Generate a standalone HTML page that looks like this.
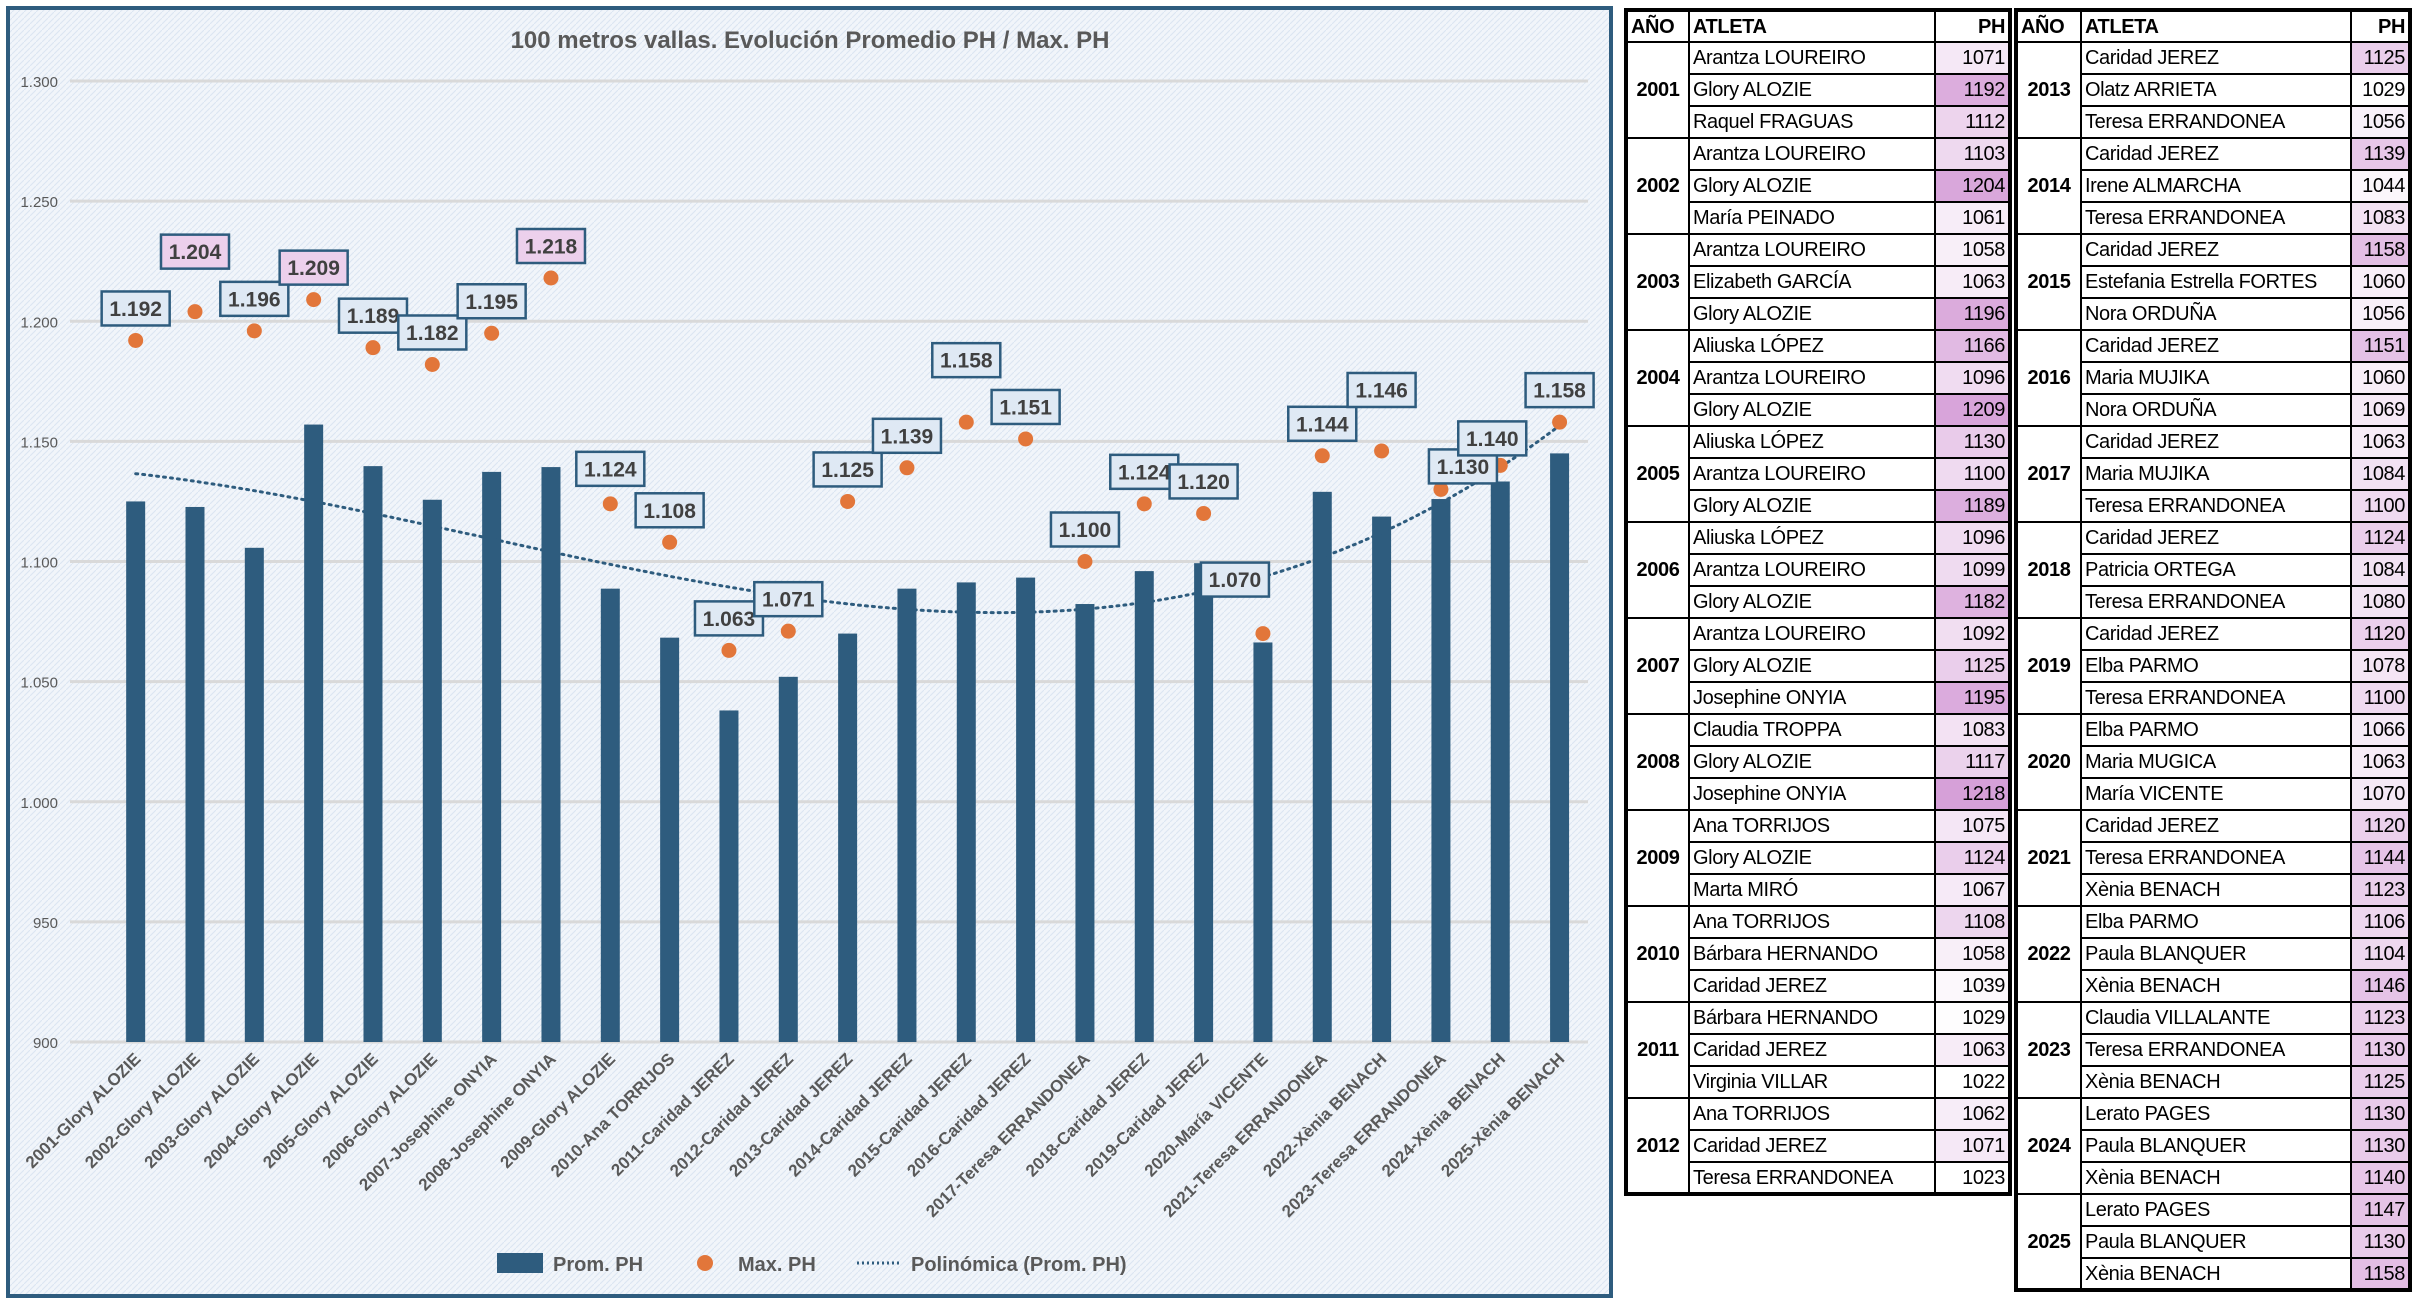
<!DOCTYPE html>
<html><head><meta charset="utf-8">
<style>
html,body{margin:0;padding:0;background:#fff;width:2414px;height:1308px;overflow:hidden;font-family:"Liberation Sans",sans-serif}
#chart{position:absolute;left:0;top:0}
.tbl{position:absolute;top:8px;border-collapse:collapse;table-layout:fixed;border:4px solid #000;background:#fff}
.tbl tr{height:32px}
.tbl td,.tbl th{border:2px solid #000;padding:0 3px;font-size:20px;letter-spacing:-0.4px;white-space:nowrap;overflow:hidden;color:#000;line-height:28px}
.tbl th{font-weight:bold;text-align:left}
.tbl th.ph{text-align:right}
.tbl td.yr{font-weight:bold;text-align:center}
.tbl td.v{text-align:right}
</style></head><body>
<svg id="chart" width="1620" height="1308">
<defs><pattern id="pat" width="6" height="6" patternUnits="userSpaceOnUse"><rect width="6" height="6" fill="#f1f5fa"/><path d="M0 6L6 0" stroke="#dbe5f1" stroke-width="1"/></pattern></defs>
<rect x="8" y="8" width="1603" height="1288" fill="url(#pat)" stroke="#2e5c7e" stroke-width="4"/>
<text x="810" y="48" text-anchor="middle" font-size="24" font-weight="bold" fill="#595959">100 metros vallas. Evolución Promedio PH / Max. PH</text>
<g id="grid"></g><g id="bars"></g><g id="trend"></g><g id="dots"></g><g id="labels"></g><g id="xlabels"></g>
<g>
<rect x="497" y="1253" width="46" height="20" fill="#2e5c7e"/>
<text x="553" y="1271" font-size="20" font-weight="bold" fill="#595959">Prom. PH</text>
<circle cx="705" cy="1263" r="8" fill="#e2763a"/>
<text x="738" y="1271" font-size="20" font-weight="bold" fill="#595959">Max. PH</text>
<line x1="857" y1="1263" x2="900" y2="1263" stroke="#2e5c7e" stroke-width="3" stroke-dasharray="2 3"/>
<text x="911" y="1271" font-size="20" font-weight="bold" fill="#595959">Polinómica (Prom. PH)</text>
</g>
</svg>
<div id="tables"></div>
<script>
const categories=["2001-Glory ALOZIE","2002-Glory ALOZIE","2003-Glory ALOZIE","2004-Glory ALOZIE","2005-Glory ALOZIE","2006-Glory ALOZIE","2007-Josephine ONYIA","2008-Josephine ONYIA","2009-Glory ALOZIE","2010-Ana TORRIJOS","2011-Caridad JEREZ","2012-Caridad JEREZ","2013-Caridad JEREZ","2014-Caridad JEREZ","2015-Caridad JEREZ","2016-Caridad JEREZ","2017-Teresa ERRANDONEA","2018-Caridad JEREZ","2019-Caridad JEREZ","2020-María VICENTE","2021-Teresa ERRANDONEA","2022-Xènia BENACH","2023-Teresa ERRANDONEA","2024-Xènia BENACH","2025-Xènia BENACH"];
const promPH=[1125,1122.7,1105.7,1157,1139.7,1125.7,1137.3,1139.3,1088.7,1068.3,1038,1052,1070,1088.7,1091.3,1093.3,1082.3,1096,1099.3,1066.3,1129,1118.7,1126,1133.3,1145];
const maxPH=[1192,1204,1196,1209,1189,1182,1195,1218,1124,1108,1063,1071,1125,1139,1158,1151,1100,1124,1120,1070,1144,1146,1130,1140,1158];
const yTicks=[900,950,1000,1050,1100,1150,1200,1250,1300];
const yTickLabels=["900","950","1.000","1.050","1.100","1.150","1.200","1.250","1.300"];
const labelDx=[0,0,0,0,0,0,0,0,0,0,0,0,0,0,0,0,0,0,0,-28,0,0,22,-8,0];
const labelDy=[0,-28,0,0,0,0,0,0,-3,0,0,0,0,0,-30,0,0,0,0,-22,0,-29,9,5,0];
const pinkLabels=[1,3,7];
const trendOrder=3;

const NS="http://www.w3.org/2000/svg";
const y0=900,y1=1300,py0=1042,py1=81;
const yS=v=>py0-(v-y0)*(py0-py1)/(y1-y0);
const x0=106,step=59.33;
const xS=i=>x0+step*(i+0.5);
function mk(tag,attrs,parent){const e=document.createElementNS(NS,tag);for(const k in attrs)e.setAttribute(k,attrs[k]);parent.appendChild(e);return e;}
const grid=document.getElementById('grid');
yTicks.forEach((t,i)=>{
 const l=mk('line',{x1:70,x2:1588,y1:yS(t),y2:yS(t),stroke:'#d9d9d9','stroke-width':3},grid);
 
 
 const tx=mk('text',{x:58,y:yS(t)+6,'text-anchor':'end','font-size':15,fill:'#595959'},grid);
 tx.textContent=yTickLabels[i];
 
 
});
const bars=document.getElementById('bars');
promPH.forEach((v,i)=>{
 const r=mk('rect',{x:xS(i)-9.5,y:yS(v),width:19,height:py0-yS(v),fill:'#2e5c7e'},bars);
 
 
});
(function(){
 const n=promPH.length,m=trendOrder+1;const c=i=>(i+1-13)/12;
 const A=[];for(let r=0;r<m;r++){A.push(new Array(m+1).fill(0));}
 promPH.forEach((v,i)=>{const x=c(i);for(let r=0;r<m;r++){for(let k=0;k<m;k++)A[r][k]+=Math.pow(x,r+k);A[r][m]+=v*Math.pow(x,r);}});
 for(let cc=0;cc<m;cc++){for(let r=cc+1;r<m;r++){const f=A[r][cc]/A[cc][cc];for(let k=cc;k<=m;k++)A[r][k]-=f*A[cc][k];}}
 const co=new Array(m).fill(0);for(let r=m-1;r>=0;r--){let s=A[r][m];for(let k=r+1;k<m;k++)s-=A[r][k]*co[k];co[r]=s/A[r][r];}
 let d='';for(let t=0;t<=240;t++){const i=t*(n-1)/240;const x=c(i);let v=0;for(let k=0;k<m;k++)v+=co[k]*Math.pow(x,k);d+=(t?'L':'M')+xS(i).toFixed(1)+' '+yS(v).toFixed(1);}
 const p=mk('path',{d:d,fill:'none',stroke:'#2e5c7e','stroke-width':3,'stroke-dasharray':'2 5','stroke-linecap':'round'},document.getElementById('trend'));
 
 
})();
const dots=document.getElementById('dots'),labels=document.getElementById('labels');
maxPH.forEach((v,i)=>{
 const c=mk('circle',{cx:xS(i),cy:yS(v),r:7.5,fill:'#e2763a'},dots);
 
 
});
const order=maxPH.map((v,i)=>i);order.splice(order.indexOf(22),1);order.splice(22,0,22);
order.forEach(i=>{
 const v=maxPH[i];const cx=xS(i)+labelDx[i],cy=yS(v)-32+labelDy[i];
 const g=mk('g',{},labels);
 
 
 mk('rect',{x:cx-34,y:cy-17,width:68,height:34,fill:pinkLabels.includes(i)?'#ecd0ec':'#dfe9f4',stroke:'#2e5c7e','stroke-width':2.5},g);
 const t=mk('text',{x:cx,y:cy+7.5,'text-anchor':'middle','font-size':21,'font-weight':'bold',fill:'#404040'},g);
 t.textContent=(v/1000).toFixed(3);
});
const xl=document.getElementById('xlabels');
categories.forEach((c,i)=>{
 const x=xS(i)+6,y=1060;
 const t=mk('text',{x:x,y:y,'text-anchor':'end','font-size':17,'font-weight':'bold',fill:'#595959',transform:`rotate(-45 ${x} ${y})`},xl);
 t.textContent=c;
 
 
});

const tYears=[2001,2002,2003,2004,2005,2006,2007,2008,2009,2010,2011,2012,2013,2014,2015,2016,2017,2018,2019,2020,2021,2022,2023,2024,2025];
const tNames=[["Arantza LOUREIRO","Glory ALOZIE","Raquel FRAGUAS"],["Arantza LOUREIRO","Glory ALOZIE","María PEINADO"],["Arantza LOUREIRO","Elizabeth GARCÍA","Glory ALOZIE"],["Aliuska LÓPEZ","Arantza LOUREIRO","Glory ALOZIE"],["Aliuska LÓPEZ","Arantza LOUREIRO","Glory ALOZIE"],["Aliuska LÓPEZ","Arantza LOUREIRO","Glory ALOZIE"],["Arantza LOUREIRO","Glory ALOZIE","Josephine ONYIA"],["Claudia TROPPA","Glory ALOZIE","Josephine ONYIA"],["Ana TORRIJOS","Glory ALOZIE","Marta MIRÓ"],["Ana TORRIJOS","Bárbara HERNANDO","Caridad JEREZ"],["Bárbara HERNANDO","Caridad JEREZ","Virginia VILLAR"],["Ana TORRIJOS","Caridad JEREZ","Teresa ERRANDONEA"],["Caridad JEREZ","Olatz ARRIETA","Teresa ERRANDONEA"],["Caridad JEREZ","Irene ALMARCHA","Teresa ERRANDONEA"],["Caridad JEREZ","Estefania Estrella FORTES","Nora ORDUÑA"],["Caridad JEREZ","Maria MUJIKA","Nora ORDUÑA"],["Caridad JEREZ","Maria MUJIKA","Teresa ERRANDONEA"],["Caridad JEREZ","Patricia ORTEGA","Teresa ERRANDONEA"],["Caridad JEREZ","Elba PARMO","Teresa ERRANDONEA"],["Elba PARMO","Maria MUGICA","María VICENTE"],["Caridad JEREZ","Teresa ERRANDONEA","Xènia BENACH"],["Elba PARMO","Paula BLANQUER","Xènia BENACH"],["Claudia VILLALANTE","Teresa ERRANDONEA","Xènia BENACH"],["Lerato PAGES","Paula BLANQUER","Xènia BENACH"],["Lerato PAGES","Paula BLANQUER","Xènia BENACH"]];
const tPH=[[1071,1192,1112],[1103,1204,1061],[1058,1063,1196],[1166,1096,1209],[1130,1100,1189],[1096,1099,1182],[1092,1125,1195],[1083,1117,1218],[1075,1124,1067],[1108,1058,1039],[1029,1063,1022],[1062,1071,1023],[1125,1029,1056],[1139,1044,1083],[1158,1060,1056],[1151,1060,1069],[1063,1084,1100],[1124,1084,1080],[1120,1078,1100],[1066,1063,1070],[1120,1144,1123],[1106,1104,1146],[1123,1130,1125],[1130,1130,1140],[1147,1130,1158]];
function col(v){const t=Math.max(0,Math.min(1,(v-1025)/(1218-1025)));const a=[255,255,255],b=[214,160,216];return `rgb(${a.map((x,k)=>Math.round(x+(b[k]-x)*t)).join(',')})`;}
function build(from,to,left,w){
 let h=`<table class="tbl" style="left:${left}px;width:${w[0]+w[1]+w[2]}px"><colgroup><col style="width:${w[0]}px"><col style="width:${w[1]}px"><col style="width:${w[2]}px"></colgroup>`;
 h+=`<tr><th>AÑO</th><th>ATLETA</th><th class="ph">PH</th></tr>`;
 for(let y=from;y<=to;y++){for(let r=0;r<3;r++){h+='<tr>';if(r==0)h+=`<td class="yr" rowspan="3">${tYears[y]}</td>`;h+=`<td>${tNames[y][r]}</td><td class="v" style="background:${col(tPH[y][r])}">${tPH[y][r]}</td></tr>`;}}
 return h+'</table>';
}
document.getElementById('tables').innerHTML=build(0,11,1624,[63,246,75])+build(12,24,2014,[65,270,59]);
</script>
</body></html>
